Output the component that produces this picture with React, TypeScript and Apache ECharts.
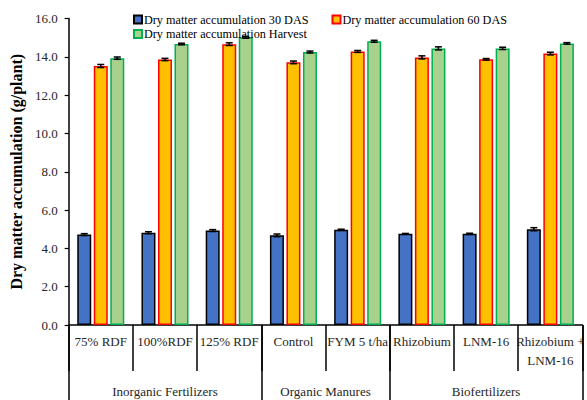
import React, { useEffect, useRef } from "react";
import * as echarts from "echarts";

const categories = ["75% RDF", "100%RDF", "125% RDF", "Control", "FYM 5 t/ha", "Rhizobium", "LNM-16", "Rhizobium +\nLNM-16"];
const groups = ["Inorganic Fertilizers", "Organic Manures", "Biofertilizers"];
const groupBounds = [0, 3, 5, 8];
const groupCenters = [1.5, 4, 6.5];
const seriesNames = ["Dry matter accumulation 30 DAS", "Dry matter accumulation 60 DAS", "Dry matter accumulation Harvest"];
const das30 = [4.72, 4.82, 4.93, 4.68, 4.97, 4.76, 4.76, 5.0];
const das60 = [13.52, 13.86, 14.66, 13.71, 14.28, 13.97, 13.87, 14.17];
const harvest = [13.93, 14.67, 15.02, 14.25, 14.81, 14.44, 14.44, 14.7];
const err30 = [0.05, 0.05, 0.05, 0.07, 0.03, 0.02, 0.03, 0.08];
const err60 = [0.08, 0.06, 0.07, 0.07, 0.05, 0.08, 0.04, 0.07];
const errHarvest = [0.06, 0.04, 0.05, 0.05, 0.05, 0.08, 0.06, 0.04];

const FONT = "Liberation Serif";
const BAR_W = 14;
const OFFSET = 16.5;

export default function App() {
  const ref = useRef<HTMLDivElement>(null);
  useEffect(() => {
    document.body.style.margin = "0";
    const chart = echarts.init(ref.current!, null, { renderer: "svg" });
    const values = [das30, das60, harvest];
    const errs = [err30, err60, errHarvest];
    const fills = ["#4472C4", "#FFC000", "#A9D18E"];
    const borders = ["#000000", "#FF0000", "#00B050"];
    const offsets = [-OFFSET, 0, OFFSET];

    const barSeries = values.map((vals, s) => ({
      name: seriesNames[s],
      type: "bar",
      xAxisIndex: 0,
      yAxisIndex: 0,
      barWidth: BAR_W,
      barGap: "18%",
      data: vals,
      itemStyle: { color: fills[s], borderColor: borders[s], borderWidth: 1.5 },
    }));

    const errSeries = values.map((vals, s) => ({
      name: "err" + s,
      type: "custom",
      xAxisIndex: 0,
      yAxisIndex: 0,
      z: 5,
      data: vals.map((v, i) => [i, v, errs[s][i]]),
      renderItem: (params: any, api: any) => {
        const i = api.value(0);
        const v = api.value(1);
        const e = api.value(2);
        const top = api.coord([i, v + e]);
        const bot = api.coord([i, v - e]);
        const x = top[0] + offsets[s];
        const st = { stroke: "#000", lineWidth: 1.5 };
        return {
          type: "group",
          children: [
            { type: "line", shape: { x1: x, y1: top[1], x2: x, y2: bot[1] }, style: st },
            { type: "line", shape: { x1: x - 3.5, y1: top[1], x2: x + 3.5, y2: top[1] }, style: st },
            { type: "line", shape: { x1: x - 3.5, y1: bot[1], x2: x + 3.5, y2: bot[1] }, style: st },
          ],
        };
      },
    }));

    const legendText = { fontFamily: FONT, fontSize: 12.2, lineHeight: 12, color: "#000", padding: [0, 0, 0, -3] };

    chart.setOption({
      animation: false,
      textStyle: { fontFamily: FONT },
      grid: { left: 68, top: 18.5, bottom: 75, right: -3.4 },
      legend: [
        {
          data: [seriesNames[0], seriesNames[1]],
          left: 133,
          top: 13.5,
          padding: 0,
          icon: "rect",
          itemWidth: 8,
          itemHeight: 8,
          itemGap: 23,
          textStyle: legendText,
        },
        {
          data: [seriesNames[2]],
          left: 133,
          top: 28,
          padding: 0,
          icon: "rect",
          itemWidth: 8,
          itemHeight: 8,
          itemGap: 23,
          textStyle: legendText,
        },
      ],
      xAxis: [
        {
          type: "category",
          data: categories,
          position: "bottom",
          axisLine: { lineStyle: { color: "#000", width: 1.5 } },
          axisTick: { show: true, interval: 0, length: 46, lineStyle: { color: "#000", width: 1.5 } },
          axisLabel: {
            interval: 0,
            color: "#262626",
            fontFamily: FONT,
            fontSize: 13,
            lineHeight: 19,
            margin: 6.5,
            align: "center",
          },
        },
        {
          type: "value",
          min: 0,
          max: 8,
          position: "bottom",
          axisLine: { show: false },
          splitLine: { show: false },
          axisTick: {
            show: true,
            length: 76,
            customValues: groupBounds,
            lineStyle: { color: "#000", width: 1.5 },
          },
          axisLabel: {
            customValues: groupCenters,
            color: "#262626",
            fontFamily: FONT,
            fontSize: 13,
            margin: 60,
            formatter: (v: number) => groups[groupCenters.indexOf(v)] ?? "",
          },
        },
      ],
      yAxis: {
        type: "value",
        min: 0,
        max: 16,
        interval: 2,
        name: "Dry matter accumulation (g/plant)",
        nameLocation: "middle",
        nameGap: 41,
        nameTextStyle: { fontFamily: FONT, fontSize: 16, fontWeight: "bold", color: "#000" },
        axisLine: { show: true, lineStyle: { color: "#000", width: 1.5 } },
        axisTick: { show: true, length: 4, lineStyle: { color: "#000", width: 1.2 } },
        splitLine: { show: false },
        axisLabel: {
          color: "#262626",
          fontFamily: FONT,
          fontSize: 13,
          margin: 11,
          formatter: (v: number) => v.toFixed(1),
        },
      },
      series: [...barSeries, ...errSeries],
    });
    return () => chart.dispose();
  }, []);
  return <div ref={ref} style={{ width: 587, height: 400 }} />;
}
